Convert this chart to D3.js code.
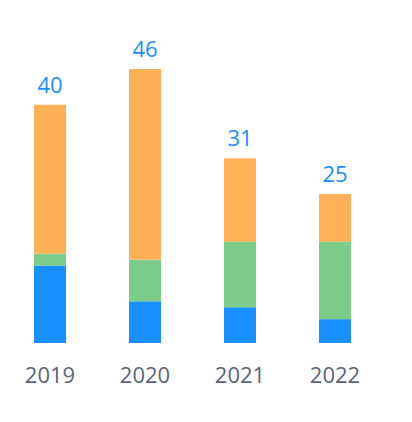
<!DOCTYPE html>
<html><head><meta charset="utf-8">
<script src="https://cdn.jsdelivr.net/npm/d3@7"></script>
<style>body{margin:0;background:#fff}</style>
</head><body>
<svg id="canvas" width="412" height="422"></svg>
<script>
let years = ['2019', '2020', '2021', '2022']
let blueValues = [13, 7, 6, 4]
let greenValues = [2, 7, 11, 13]
let orangeValues = [25, 32, 14, 8]
let colors = ['#1890ff', '#7ccc8a', '#ffb056']

let canvas = d3.select('#canvas')

let rows = years.map((y, i) => ({year: y, blue: blueValues[i], green: greenValues[i], orange: orangeValues[i]}))
let stack = d3.stack().keys(['blue', 'green', 'orange'])(rows)

let x = d3.scaleBand().domain(years).range([2.5, 382.5]).paddingInner(0.663).paddingOuter(0.3315)
let y = d3.scaleLinear().domain([0, 46]).range([343, 69])

stack.forEach((layer, k) => {
    canvas.selectAll('rect.l' + k)
        .data(layer)
        .enter()
        .append('rect')
        .attr('x', (d) => x(d.data.year))
        .attr('y', (d) => y(d[1]))
        .attr('width', x.bandwidth())
        .attr('height', (d) => y(d[0]) - y(d[1]))
        .attr('fill', colors[k])
})

canvas.selectAll('text.total')
    .data(rows)
    .enter()
    .append('text')
    .attr('x', (d) => x(d.year) + x.bandwidth() / 2)
    .attr('y', (d) => y(d.blue + d.green + d.orange) - 12)
    .attr('text-anchor', 'middle')
    .attr('font-family', '"Open Sans", sans-serif')
    .attr('font-size', 22)
    .attr('fill', '#1890ff')
    .text((d) => d.blue + d.green + d.orange)

let axis = d3.axisBottom(x).tickSize(0).tickPadding(24)
let g = canvas.append('g').attr('transform', 'translate(0,343)').call(axis)
g.select('.domain').remove()
g.selectAll('text')
    .attr('font-family', '"Open Sans", sans-serif')
    .attr('font-size', 22)
    .attr('fill', '#5a6478')
</script>
</body></html>
